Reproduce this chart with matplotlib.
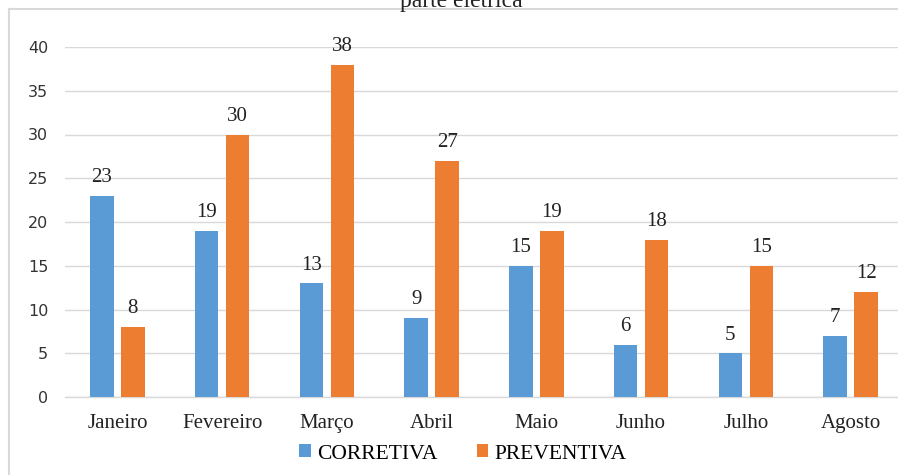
import numpy as np
import matplotlib.pyplot as plt
from matplotlib.lines import Line2D

# dados
meses = ['Janeiro', 'Fevereiro', 'Março', 'Abril', 'Maio', 'Junho', 'Julho', 'Agosto']
corretiva = [23, 19, 13, 9, 15, 6, 5, 7]
preventiva = [8, 30, 38, 27, 19, 18, 15, 12]

azul = '#5B9BD5'
laranja = '#ED7D31'
cinza = '#D9D9D9'
serif = 'Liberation Serif'

fig = plt.figure(figsize=(8.98, 4.75), dpi=100)
ax = fig.add_axes([65 / 898, 1 - 397 / 475, 838 / 898, 350 / 475])

# moldura do gráfico (só topo e esquerda aparecem)
topo = 1 - 9 / 475
esq = 9 / 898
fig.lines.append(Line2D([esq, 1], [topo, topo], transform=fig.transFigure,
                        color=cinza, linewidth=1.5))
fig.lines.append(Line2D([esq, esq], [0, topo], transform=fig.transFigure,
                        color=cinza, linewidth=1.5))

# título cortado no topo
fig.text(461 / 898, 1 - 1 / 475, 'parte elétrica', ha='center', va='center',
         fontsize=17, family=serif, color='#222222')

x = np.arange(len(meses))
w = 0.225
off = 0.148
b1 = ax.bar(x - off, corretiva, w, color=azul, label='CORRETIVA', zorder=3)
b2 = ax.bar(x + off, preventiva, w, color=laranja, label='PREVENTIVA', zorder=3)

for bars in (b1, b2):
    for r in bars:
        ax.text(r.get_x() + r.get_width() / 2, r.get_height() + 1.0, str(int(r.get_height())),
                ha='center', va='bottom', fontsize=15, family=serif, color='#222222')

ax.set_xlim(-0.5, len(meses) - 0.5)
ax.set_ylim(0, 40)
ax.set_yticks(range(0, 41, 5))
ax.grid(axis='y', color=cinza, linewidth=1, zorder=0)
for s in ['top', 'right', 'left']:
    ax.spines[s].set_visible(False)
ax.spines['bottom'].set_color(cinza)
ax.spines['bottom'].set_linewidth(1)
ax.tick_params(length=0)
ax.tick_params(axis='y', labelsize=11.5, labelcolor='#333333', pad=12)
ax.set_xticks(x)
ax.set_xticklabels(meses, fontsize=15, family=serif, color='#222222')
ax.tick_params(axis='x', pad=12)

leg = fig.legend(loc='center', bbox_to_anchor=(463 / 898, 1 - 454 / 475), ncol=2, frameon=False,
                 prop={'family': serif, 'size': 15.5}, handlelength=0.55, handleheight=0.55,
                 handletextpad=0.3, columnspacing=1.8)

plt.savefig('out.png', dpi=100)
